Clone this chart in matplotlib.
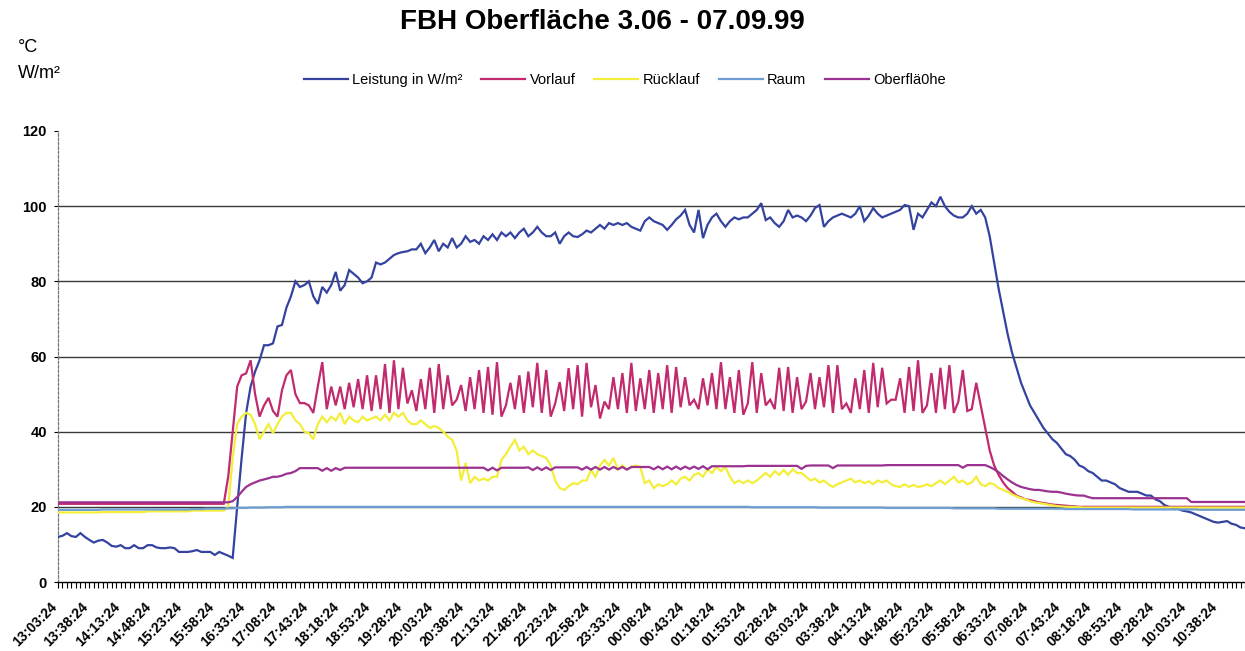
import matplotlib
matplotlib.use("Agg")
import matplotlib.pyplot as plt
import matplotlib.transforms as mtransforms

plt.rcParams['font.family'] = ['Liberation Sans', 'DejaVu Sans']

title = "FBH Oberfläche 3.06 - 07.09.99"
unit_lines = ["°C", "W/m²"]
series_names = ["Leistung in W/m²", "Vorlauf", "Rücklauf", "Raum", "Oberflä0he"]
series_colors = ["#34439f", "#c22a6e", "#f3ee3a", "#6f9ed2", "#9b3190"]

# one sample every 5 minutes, a label every 7th sample
tick_labels = [
    "13:03:24", "13:38:24", "14:13:24", "14:48:24", "15:23:24", "15:58:24",
    "16:33:24", "17:08:24", "17:43:24", "18:18:24", "18:53:24", "19:28:24",
    "20:03:24", "20:38:24", "21:13:24", "21:48:24", "22:23:24", "22:58:24",
    "23:33:24", "00:08:24", "00:43:24", "01:18:24", "01:53:24", "02:28:24",
    "03:03:24", "03:38:24", "04:13:24", "04:48:24", "05:23:24", "05:58:24",
    "06:33:24", "07:08:24", "07:43:24", "08:18:24", "08:53:24", "09:28:24",
    "10:03:24", "10:38:24",
]
label_step = 7

leistung = [
    12.0, 12.3, 13.0, 12.2, 12.0, 13.0, 12.0, 11.2, 10.5, 11.0,
    11.2, 10.5, 9.6, 9.4, 9.8, 9.0, 9.0, 9.8, 9.0, 9.0,
    9.8, 9.8, 9.2, 9.0, 9.0, 9.2, 9.0, 8.0, 8.0, 8.0,
    8.2, 8.5, 8.0, 8.0, 8.0, 7.2, 8.0, 7.5, 7.0, 6.4,
    20.0, 33.0, 45.0, 52.0, 56.0, 59.0, 63.0, 63.0, 63.5, 68.0,
    68.4, 73.0, 76.0, 80.0, 78.5, 79.0, 80.0, 76.0, 74.0, 78.5,
    77.0, 79.0, 82.5, 77.5, 79.0, 83.0, 82.0, 81.0, 79.5, 80.0,
    81.0, 85.0, 84.5, 85.0, 86.0, 87.0, 87.5, 87.8, 88.0, 88.5,
    88.5, 90.0, 87.5, 89.0, 91.0, 88.0, 90.0, 89.0, 91.5, 89.0,
    90.0, 92.0, 90.5, 91.0, 90.0, 92.0, 91.0, 92.5, 91.0, 93.0,
    92.0, 93.0, 91.5, 93.0, 94.0, 92.0, 93.0, 94.5, 93.0, 92.0,
    92.0, 93.0, 90.0, 92.0, 93.0, 92.0, 91.8, 92.5, 93.5, 93.0,
    94.0, 95.0, 94.0, 95.5, 95.0, 95.5, 95.0, 95.5, 94.5, 94.0,
    93.5, 96.0, 97.0, 96.0, 95.5, 95.0, 93.7, 95.0, 96.5, 97.5,
    99.0, 95.0, 93.0, 99.0, 91.5, 95.0, 97.0, 98.0, 96.0, 94.5,
    96.0, 97.0, 96.5, 97.0, 97.0, 98.0, 99.0, 100.8, 96.3, 97.0,
    95.5, 94.5, 96.0, 99.0, 97.0, 97.5, 97.0, 96.0, 97.5, 99.5,
    100.3, 94.5, 96.0, 97.0, 97.5, 98.0, 97.5, 97.0, 98.0, 100.0,
    96.0, 97.5, 99.5, 98.0, 97.0, 97.5, 98.0, 98.5, 99.0, 100.3,
    100.0, 93.7, 98.0, 97.0, 99.0, 101.0, 100.0, 102.5, 100.0, 98.5,
    97.5, 97.0, 97.0, 98.0, 100.0, 98.0, 99.0, 97.0, 92.0, 85.0,
    78.0, 72.0, 66.0, 61.0, 57.0, 53.0, 50.0, 47.0, 45.0, 43.0,
    41.0, 39.5, 38.0, 37.0, 35.5, 34.0, 33.5, 32.5, 31.0, 30.5,
    29.5, 29.0, 28.0, 27.0, 27.0, 26.5, 26.0, 25.0, 24.5, 24.0,
    24.0, 24.0, 23.5, 23.0, 23.0, 22.0, 21.5, 20.5, 20.0, 19.5,
    19.5, 19.0, 18.8, 18.5, 18.0, 17.5, 17.0, 16.5, 16.0, 15.8,
    16.0, 16.2, 15.5, 15.2, 14.5, 14.3,
]

vorlauf = [
    20.8, 20.8, 20.8, 20.8, 20.8, 20.8, 20.8, 20.8, 20.8, 20.8,
    20.8, 20.8, 20.8, 20.8, 20.8, 20.8, 20.8, 20.8, 20.8, 20.8,
    20.8, 20.8, 20.8, 20.8, 20.8, 20.8, 20.8, 20.8, 20.8, 20.8,
    20.8, 20.8, 20.8, 20.8, 20.8, 20.8, 20.8, 20.8, 28.0, 40.0,
    52.0, 55.0, 55.5, 59.0, 50.0, 44.0, 47.0, 49.0, 45.5, 44.0,
    51.0, 55.0, 56.4, 50.0, 47.6, 47.6, 47.0, 45.0, 52.0, 58.5,
    46.0, 52.0, 47.0, 52.0, 46.0, 53.0, 46.5, 54.0, 46.0, 55.0,
    45.5, 55.0, 46.0, 58.0, 45.0, 59.0, 46.0, 57.0, 47.5, 51.0,
    45.5, 54.0, 46.0, 57.0, 45.0, 58.0, 46.0, 55.0, 47.0, 48.5,
    52.4, 45.5, 54.5, 46.0, 56.4, 45.0, 57.2, 44.5, 58.5, 44.0,
    47.0, 53.0, 46.0, 55.0, 45.0, 56.0, 46.5, 58.3, 45.0, 56.4,
    44.0, 47.5, 53.2, 45.5, 56.9, 46.0, 57.7, 44.0, 58.3, 46.5,
    52.4, 43.5, 48.0, 46.0, 54.5, 46.0, 55.6, 45.0, 58.3, 45.5,
    54.2, 46.0, 56.4, 45.0, 55.6, 46.0, 57.7, 45.0, 57.2, 46.5,
    54.5, 47.0, 48.5, 46.0, 54.2, 47.0, 55.6, 46.0, 58.5, 46.0,
    54.5, 45.0, 56.4, 44.5, 47.5, 58.5, 45.0, 55.6, 47.0, 48.5,
    46.0, 57.0, 45.5, 57.2, 45.0, 54.5, 46.0, 48.0, 55.6, 46.0,
    54.5, 46.5, 57.7, 45.0, 57.7, 46.0, 47.5, 45.0, 54.2, 46.0,
    56.4, 45.0, 58.3, 46.5, 57.0, 47.5, 48.5, 48.5, 54.2, 45.0,
    57.2, 45.5, 59.0, 45.0, 47.0, 55.6, 45.0, 57.0, 46.0, 57.7,
    45.0, 48.0, 56.4, 45.5, 46.0, 53.0, 47.0, 41.0, 35.0, 31.0,
    28.5, 26.5, 25.0, 24.0, 23.0, 22.5, 22.0, 21.8, 21.5, 21.2,
    21.0, 20.8, 20.6, 20.5, 20.4, 20.3, 20.2, 20.1, 20.0, 20.0,
    20.0, 20.0, 20.0, 20.0, 20.0, 20.0, 20.0, 20.0, 20.0, 20.0,
    20.0, 20.0, 20.0, 20.0, 20.0, 20.0, 20.0, 20.0, 20.0, 20.0,
    20.0, 20.0, 20.0, 20.0, 20.0, 20.0, 20.0, 20.0, 20.0, 20.0,
    20.0, 20.0, 20.0, 20.0, 20.0, 20.0,
]

ruecklauf = [
    18.5, 18.5, 18.5, 18.5, 18.5, 18.5, 18.5, 18.5, 18.5, 18.5,
    18.6, 18.6, 18.6, 18.6, 18.6, 18.6, 18.6, 18.6, 18.6, 18.6,
    18.8, 18.8, 18.8, 18.8, 18.8, 18.8, 18.8, 18.8, 18.8, 18.8,
    19.0, 19.0, 19.0, 19.0, 19.0, 19.0, 19.0, 19.0, 20.0, 33.0,
    42.0, 44.0, 45.0, 44.5, 42.0, 38.0, 40.0, 42.0, 39.6, 42.0,
    44.0, 45.0, 45.0, 43.0, 42.0, 40.0, 39.6, 38.0, 42.0, 44.0,
    42.5, 44.0, 43.0, 45.0, 42.0, 44.0, 43.0, 42.5, 44.0, 43.0,
    43.5, 44.0, 43.0, 44.5, 43.0, 45.0, 44.0, 45.0, 43.0, 42.0,
    42.0, 43.0, 42.0, 41.0, 41.5, 41.0, 40.0, 38.7, 37.8, 35.0,
    27.0, 31.7, 26.3, 28.0, 27.0, 27.5, 27.0, 28.0, 28.0, 32.5,
    34.0, 36.0, 37.8, 35.0, 36.0, 34.0, 35.0, 34.0, 33.5, 33.0,
    31.0, 27.0, 25.0, 24.5, 25.5, 26.3, 26.0, 27.0, 27.0, 29.8,
    28.0, 31.0, 32.5, 31.0, 33.0, 30.0, 31.0, 30.0, 30.6, 31.0,
    30.6, 26.3, 27.0, 25.0, 26.0, 25.5, 26.0, 27.0, 26.0, 27.5,
    28.0, 27.0, 28.5, 29.0, 28.0, 30.0, 29.0, 30.6, 29.5, 30.6,
    28.0, 26.3, 27.0, 26.3, 27.0, 26.3, 27.0, 28.0, 29.0, 28.0,
    29.5, 28.5, 29.8, 28.5, 30.0, 29.0, 29.0, 28.0, 27.0, 27.5,
    26.5, 27.0, 26.0, 25.3, 26.0, 26.5, 27.0, 27.5, 26.5, 27.0,
    26.3, 26.8, 26.0, 27.0, 26.5, 27.0, 26.0, 25.5, 25.3, 26.0,
    25.3, 25.8, 25.3, 25.5, 26.0, 25.5, 26.3, 27.0, 26.0, 27.0,
    28.0, 26.5, 27.0, 26.0, 26.5, 28.0, 26.0, 25.5, 26.3, 26.0,
    25.0, 24.5, 24.0, 23.3, 22.8, 22.3, 22.0, 21.5, 21.2, 21.0,
    20.8, 20.6, 20.4, 20.2, 20.1, 20.0, 20.0, 19.9, 19.9, 19.8,
    19.8, 19.8, 19.8, 19.8, 19.8, 19.8, 19.8, 19.8, 19.8, 19.8,
    19.8, 19.8, 19.8, 19.8, 19.8, 19.8, 19.8, 19.8, 19.8, 19.8,
    19.8, 19.8, 19.8, 19.8, 19.8, 19.8, 19.8, 19.8, 19.8, 19.8,
    19.8, 19.8, 19.8, 19.8, 19.8, 19.8,
]

raum = [
    19.2, 19.2, 19.2, 19.2, 19.2, 19.2, 19.2, 19.2, 19.2, 19.2,
    19.3, 19.3, 19.3, 19.3, 19.3, 19.3, 19.3, 19.3, 19.3, 19.3,
    19.3, 19.3, 19.3, 19.3, 19.3, 19.3, 19.3, 19.3, 19.3, 19.3,
    19.4, 19.4, 19.4, 19.5, 19.5, 19.5, 19.5, 19.5, 19.6, 19.6,
    19.7, 19.7, 19.7, 19.8, 19.8, 19.8, 19.8, 19.9, 19.9, 19.9,
    19.9, 20.0, 20.0, 20.0, 20.0, 20.0, 20.0, 20.0, 20.0, 20.0,
    20.0, 20.0, 20.0, 20.0, 20.0, 20.0, 20.0, 20.0, 20.0, 20.0,
    20.0, 20.0, 20.0, 20.0, 20.0, 20.0, 20.0, 20.0, 20.0, 20.0,
    20.0, 20.0, 20.0, 20.0, 20.0, 20.0, 20.0, 20.0, 20.0, 20.0,
    20.0, 20.0, 20.0, 20.0, 20.0, 20.0, 20.0, 20.0, 20.0, 20.0,
    20.0, 20.0, 20.0, 20.0, 20.0, 20.0, 20.0, 20.0, 20.0, 20.0,
    20.0, 20.0, 20.0, 20.0, 20.0, 20.0, 20.0, 20.0, 20.0, 20.0,
    20.0, 20.0, 20.0, 20.0, 20.0, 20.0, 20.0, 20.0, 20.0, 20.0,
    20.0, 20.0, 20.0, 20.0, 20.0, 20.0, 20.0, 20.0, 20.0, 20.0,
    20.0, 20.0, 20.0, 20.0, 20.0, 20.0, 20.0, 20.0, 20.0, 20.0,
    20.0, 20.0, 20.0, 20.0, 20.0, 19.9, 19.9, 19.9, 19.9, 19.9,
    19.9, 19.9, 19.9, 19.9, 19.9, 19.9, 19.9, 19.9, 19.9, 19.9,
    19.8, 19.8, 19.8, 19.8, 19.8, 19.8, 19.8, 19.8, 19.8, 19.8,
    19.8, 19.8, 19.8, 19.8, 19.8, 19.7, 19.7, 19.7, 19.7, 19.7,
    19.7, 19.7, 19.7, 19.7, 19.7, 19.7, 19.7, 19.7, 19.7, 19.7,
    19.6, 19.6, 19.6, 19.6, 19.6, 19.6, 19.6, 19.6, 19.6, 19.6,
    19.5, 19.5, 19.5, 19.5, 19.5, 19.5, 19.5, 19.5, 19.5, 19.5,
    19.5, 19.5, 19.5, 19.5, 19.5, 19.4, 19.4, 19.4, 19.4, 19.4,
    19.4, 19.4, 19.4, 19.4, 19.4, 19.4, 19.4, 19.4, 19.4, 19.4,
    19.3, 19.3, 19.3, 19.3, 19.3, 19.3, 19.3, 19.3, 19.3, 19.3,
    19.3, 19.3, 19.3, 19.3, 19.3, 19.2, 19.2, 19.2, 19.2, 19.2,
    19.2, 19.2, 19.2, 19.2, 19.2, 19.2,
]

oberflaeche = [
    21.2, 21.2, 21.2, 21.2, 21.2, 21.2, 21.2, 21.2, 21.2, 21.2,
    21.2, 21.2, 21.2, 21.2, 21.2, 21.2, 21.2, 21.2, 21.2, 21.2,
    21.2, 21.2, 21.2, 21.2, 21.2, 21.2, 21.2, 21.2, 21.2, 21.2,
    21.2, 21.2, 21.2, 21.2, 21.2, 21.2, 21.2, 21.2, 21.2, 21.5,
    22.6, 24.0, 25.3, 26.0, 26.5, 27.0, 27.3, 27.6, 28.0, 28.0,
    28.3, 28.8, 29.0, 29.5, 30.3, 30.3, 30.3, 30.3, 30.3, 29.6,
    30.3, 29.6, 30.3, 29.8, 30.4, 30.4, 30.4, 30.4, 30.4, 30.4,
    30.4, 30.4, 30.4, 30.4, 30.4, 30.4, 30.4, 30.4, 30.4, 30.4,
    30.4, 30.4, 30.4, 30.4, 30.4, 30.4, 30.4, 30.4, 30.4, 30.4,
    30.4, 30.4, 30.4, 30.4, 30.4, 30.4, 29.7, 30.4, 29.7, 30.4,
    30.4, 30.4, 30.4, 30.4, 30.4, 30.5, 29.8, 30.5, 29.8, 30.5,
    29.8, 30.5, 30.5, 30.5, 30.5, 30.5, 30.5, 29.9, 30.6, 29.9,
    30.6, 29.9, 30.6, 29.9, 30.6, 30.0, 30.6, 29.9, 30.6, 30.6,
    30.6, 30.6, 30.6, 30.0, 30.7, 30.0, 30.7, 30.0, 30.7, 30.0,
    30.7, 30.1, 30.7, 30.1, 30.8, 30.0, 30.8, 30.8, 30.8, 30.8,
    30.8, 30.8, 30.8, 30.8, 30.9, 30.9, 30.9, 30.9, 30.9, 30.9,
    30.9, 30.9, 30.9, 30.9, 30.9, 30.9, 30.1, 30.9, 31.0, 31.0,
    31.0, 31.0, 31.0, 30.3, 31.0, 31.0, 31.0, 31.0, 31.0, 31.0,
    31.0, 31.0, 31.0, 31.0, 31.0, 31.1, 31.1, 31.1, 31.1, 31.1,
    31.1, 31.1, 31.1, 31.1, 31.1, 31.1, 31.1, 31.1, 31.1, 31.1,
    31.1, 31.1, 30.4, 31.1, 31.1, 31.1, 31.1, 31.1, 30.6, 30.0,
    29.2, 28.2, 27.3, 26.5, 25.8, 25.3, 25.0, 24.7, 24.5, 24.5,
    24.3, 24.1, 24.0, 24.0, 23.8, 23.5, 23.3, 23.1, 23.0, 23.0,
    22.6, 22.3, 22.3, 22.3, 22.3, 22.3, 22.3, 22.3, 22.3, 22.3,
    22.3, 22.3, 22.3, 22.3, 22.3, 22.3, 22.3, 22.3, 22.3, 22.3,
    22.3, 22.3, 22.3, 21.3, 21.3, 21.3, 21.3, 21.3, 21.3, 21.3,
    21.3, 21.3, 21.3, 21.3, 21.3, 21.3,
]

all_series = [leistung, vorlauf, ruecklauf, raum, oberflaeche]
n_samples = max(len(s) for s in all_series)

W, H = 1245, 651
fig = plt.figure(figsize=(W / 100, H / 100), dpi=100)
ax = fig.add_axes([58 / W, 69 / H, (W - 58) / W, 451 / H])

# horizontal grid
for yv in (20, 40, 60, 80, 100):
    ax.axhline(yv, color="#3a3a3a", lw=1.0, zorder=1)

handles = []
for k, (vals, name, col) in enumerate(zip(all_series, series_names, series_colors)):
    line, = ax.plot(range(len(vals)), vals, color=col, lw=1.6, zorder=3 + k,
                    solid_joinstyle="miter")
    handles.append(line)

ax.set_xlim(0, n_samples - 1)
ax.set_ylim(0, 120)

# y axis
ax.set_yticks([0, 20, 40, 60, 80, 100, 120])
ax.tick_params(axis="y", length=3, width=0.8, pad=5, labelsize=10.5, colors="black")
for lab in ax.get_yticklabels():
    lab.set_fontweight("bold")
ax.spines["left"].set_linestyle((0, (2, 1.5)))
ax.spines["left"].set_color("#777777")
ax.spines["left"].set_linewidth(0.9)
ax.spines["top"].set_visible(False)
ax.spines["right"].set_visible(False)
ax.spines["bottom"].set_color("black")
ax.spines["bottom"].set_linewidth(1.0)

# x axis: a tick per sample, a label every 7th sample
ax.set_xticks(range(0, n_samples), minor=True)
major_pos = [label_step * k for k in range(len(tick_labels))]
ax.set_xticks(major_pos)
ax.set_xticklabels(tick_labels, rotation=45, ha="right", va="top",
                   rotation_mode="anchor", fontsize=10, fontweight="bold")
ax.tick_params(axis="x", which="both", length=4, width=0.8, direction="out")
ax.tick_params(axis="x", which="major", pad=9)
shift = mtransforms.ScaledTranslation(-6 / 72, 0, fig.dpi_scale_trans)
for lab in ax.get_xticklabels():
    lab.set_transform(lab.get_transform() + shift)

# title, unit captions and legend
fig.text(602 / W, 1 - 22 / H, title, ha="center", va="center",
         fontsize=20, fontweight="bold")
fig.text(18 / W, 1 - 47 / H, unit_lines[0], ha="left", va="center", fontsize=13)
fig.text(18 / W, 1 - 73 / H, unit_lines[1], ha="left", va="center", fontsize=13)

fig.legend(handles, series_names, loc="center", bbox_to_anchor=(625 / W, 1 - 80 / H),
           ncol=5, frameon=False, fontsize=10.5, handlelength=3.0,
           handletextpad=0.3, columnspacing=1.3)

fig.savefig("out.png", dpi=100)
